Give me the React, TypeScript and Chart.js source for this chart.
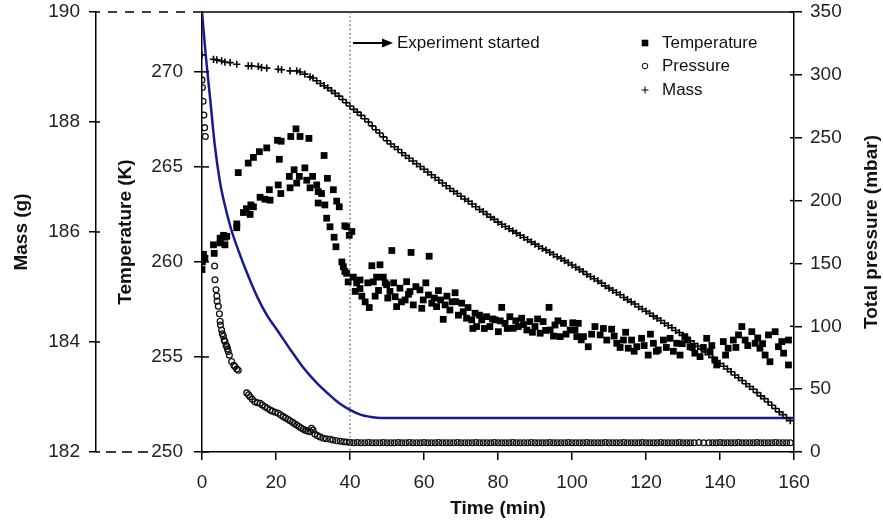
import React, { useEffect, useRef } from 'react';
import { Chart, registerables } from 'chart.js';

Chart.register(...registerables);

const FONT = "'Liberation Sans', Arial, Helvetica, sans-serif";

// ---- axis ranges / tick steps ----
const timeRange = [0, 160];
const timeStep = 20;
const tempRange = [250, 273.15];
const tempStep = 5;
const massRange = [182, 190];
const massStep = 2;
const presRange = [0, 350];
const presStep = 50;
const experimentStart = 40;

// ---- Temperature (K) vs time (min), filled squares ----
const temperaturePoints: [number, number][] = [
  [0.0, 259.6], [0.1, 260.0], [0.4, 260.4], [0.8, 260.2], [3.1, 260.9], [3.3, 260.45], [4.9, 261.0],
  [4.9, 261.25], [5.8, 261.4], [6.2, 261.3], [6.2, 260.9], [6.7, 261.35], [9.4, 262.0], [9.4, 261.8],
  [11.2, 262.6], [12.0, 262.8], [13.0, 262.5], [13.2, 263.0], [13.9, 262.9], [15.7, 263.4], [17.0, 263.3],
  [18.2, 263.8], [18.4, 263.25], [20.6, 264.05], [21.3, 263.6], [23.6, 264.5], [23.8, 263.9], [24.9, 264.85],
  [25.6, 264.15], [26.3, 264.5], [27.8, 264.95], [28.3, 264.3], [29.2, 263.9], [29.9, 264.5], [31.0, 264.05],
  [31.4, 263.7], [31.4, 263.1], [32.3, 263.6], [33.2, 263.0], [33.9, 264.4], [35.5, 263.8], [36.4, 263.2],
  [37.1, 262.9], [33.7, 262.3], [34.6, 261.85], [35.7, 261.3], [36.2, 260.8], [38.6, 261.9], [39.1, 261.85],
  [40.5, 261.6], [39.8, 261.4],
  [9.8, 264.7], [12.5, 265.2], [13.9, 265.5], [15.5, 265.8], [17.5, 266.0], [20.4, 266.4], [21.4, 266.35],
  [20.9, 265.4], [24.0, 266.6], [25.4, 267.0], [26.5, 266.6], [28.9, 266.5], [33.0, 265.6],
  [37.8, 260.0], [38.2, 259.75], [38.6, 259.5], [39.1, 259.4], [39.5, 258.95], [40.9, 259.2], [41.8, 258.9],
  [42.7, 259.05], [41.4, 258.45], [42.7, 258.6], [43.2, 258.2], [44.1, 257.9], [45.2, 257.6], [45.9, 259.8],
  [47.2, 259.2], [48.1, 259.85], [46.3, 258.95], [47.7, 258.5], [49.0, 259.2], [49.5, 258.9], [49.9, 258.8],
  [50.8, 258.45], [51.3, 260.6], [56.5, 260.5], [61.4, 260.3],
  [52.6, 257.65], [52.2, 258.17], [53.5, 258.62], [55.3, 258.96], [56.2, 258.44], [54.9, 258.0], [57.1, 257.74],
  [58.9, 258.53], [59.8, 258.0], [61.2, 258.26], [59.4, 257.56], [62.1, 257.83], [63.9, 258.49], [63.4, 257.65],
  [65.2, 256.98], [65.7, 257.74], [67.0, 257.47], [68.4, 258.38], [68.6, 257.91], [70.2, 257.83], [70.6, 257.38],
  [71.5, 257.04], [72.9, 256.95], [73.8, 257.3], [74.2, 256.6], [75.6, 256.95], [76.9, 257.12], [77.8, 256.6],
  [79.2, 256.95], [80.1, 256.33], [81.0, 257.61], [81.9, 256.77], [83.2, 257.12], [84.1, 256.51], [85.5, 256.6],
  [86.4, 257.04], [87.8, 256.42], [88.6, 256.86], [90.0, 256.6], [91.4, 256.25], [92.2, 256.86], [93.8, 257.61],
  [94.1, 256.42], [95.4, 256.68], [96.8, 256.07], [97.7, 256.77], [99.5, 256.42], [101.3, 256.07],
  [44.8, 258.9], [46.8, 258.2], [50.2, 258.1], [51.8, 258.9], [53.9, 257.9], [55.8, 258.3], [57.8, 258.7],
  [60.5, 258.9], [62.8, 258.1], [64.5, 258.0], [66.2, 258.2], [67.6, 257.9], [69.3, 257.2], [71.9, 257.6],
  [73.2, 256.5], [75.0, 257.2], [76.3, 256.5], [78.5, 257.0], [80.6, 256.9], [82.5, 256.5], [84.8, 256.9],
  [86.9, 256.7], [89.3, 256.3], [90.7, 257.0], [92.9, 256.4], [95.0, 256.1], [96.2, 256.9], [98.4, 256.2],
  [100.2, 256.8],
  [101.7, 256.77], [100.8, 256.42], [103.1, 256.07], [104.4, 255.54], [106.2, 256.6], [107.6, 256.16],
  [109.4, 255.89], [110.7, 256.46], [112.1, 255.72], [113.9, 255.89], [115.2, 255.46], [116.1, 255.89],
  [117.5, 255.54], [118.8, 255.98], [120.6, 255.1], [122.0, 255.72], [123.3, 255.37], [124.7, 255.89],
  [126.5, 255.98], [128.3, 255.72], [129.2, 255.1], [130.5, 256.07], [131.9, 255.54], [133.2, 255.2],
  [134.6, 255.02], [136.4, 255.98], [137.3, 255.28], [138.6, 254.84], [139.1, 254.58], [140.9, 255.81],
  [142.2, 255.46], [143.6, 255.89], [145.0, 256.16], [145.9, 256.6], [146.8, 255.89], [148.6, 256.33],
  [149.5, 255.72], [150.8, 255.46], [152.2, 255.1], [153.5, 254.75], [153.1, 256.16], [154.9, 256.33],
  [155.8, 255.54], [157.2, 255.2], [158.5, 254.58], [158.5, 255.89], [156.7, 255.81],
  [102.5, 255.9], [105.3, 256.2], [108.5, 256.5], [111.4, 256.1], [113.0, 255.5], [114.5, 256.3],
  [116.8, 255.3], [119.5, 255.6], [121.2, 256.2], [122.8, 255.3], [125.5, 255.5], [127.4, 255.3],
  [129.8, 255.7], [131.2, 255.9], [132.5, 255.5], [135.5, 255.5], [137.8, 255.6], [141.5, 255.1],
  [144.3, 255.5], [147.5, 255.6], [150.2, 256.0], [151.5, 255.7],
];

// ---- Total pressure (mbar) vs time (min), open circles ----
const pressurePoints: [number, number][] = [
  [0.0, 296], [0.1, 290], [0.3, 279], [0.5, 268], [0.7, 258], [0.9, 251],
  [3.4, 148], [3.5, 137], [3.8, 129], [4.0, 124], [4.1, 120], [4.4, 116], [4.7, 110], [4.9, 104],
  [5.0, 101], [5.3, 97], [5.5, 94], [5.8, 92], [6.0, 89], [6.2, 88], [6.5, 85], [6.7, 84], [6.9, 82],
  [7.1, 80], [7.4, 77], [8.0, 72], [8.6, 69], [8.9, 68], [9.4, 66], [9.8, 65],
  [12.1, 47], [12.6, 45.5], [13.0, 44], [13.6, 42], [14.3, 40], [15.0, 39.2], [15.7, 38.7], [16.3, 37.3],
  [17.0, 36], [17.7, 34.8], [18.4, 33.4], [19.0, 32.5], [19.8, 31.6], [20.6, 30.8], [21.3, 29.4],
  [22.0, 28.1], [22.6, 27], [23.2, 26], [23.8, 24.9], [24.5, 23.6], [25.0, 22.5], [25.6, 21.5],
  [26.2, 20.2], [26.8, 19], [27.4, 18], [28.0, 17.2], [28.6, 16.6], [29.2, 16.2], [29.6, 18.9],
  [30.0, 17.5], [30.5, 14.3], [31.2, 13], [31.9, 12], [32.8, 10.9], [33.6, 10.5], [34.6, 10.1],
  [35.4, 9.5], [36.4, 9.0], [37.4, 8.6], [38.3, 8.2], [39.1, 8.0], [40.0, 7.6],
  [41, 7.4], [42, 7.5], [43, 7.3], [44, 7.4], [45, 7.5], [46, 7.4], [47, 7.3], [48, 7.4], [49, 7.5],
  [50, 7.4], [51, 7.4], [52, 7.3], [53, 7.5], [54, 7.4], [55, 7.4], [56, 7.5], [57, 7.3], [58, 7.4],
  [59, 7.4], [60, 7.5], [61, 7.4], [62, 7.3], [63, 7.4], [64, 7.5], [65, 7.4], [66, 7.4], [67, 7.3],
  [68, 7.4], [69, 7.5], [70, 7.4], [71, 7.4], [72, 7.3], [73, 7.4], [74, 7.5], [75, 7.4], [76, 7.4],
  [77, 7.3], [78, 7.4], [79, 7.5], [80, 7.4], [81, 7.4], [82, 7.3], [83, 7.4], [84, 7.5], [85, 7.4],
  [86, 7.4], [87, 7.3], [88, 7.4], [89, 7.5], [90, 7.4], [91, 7.4], [92, 7.3], [93, 7.4], [94, 7.5],
  [95, 7.4], [96, 7.4], [97, 7.3], [98, 7.4], [99, 7.5], [100, 7.4], [101, 7.4], [102, 7.3], [103, 7.4],
  [104, 7.5], [105, 7.4], [106, 7.4], [107, 7.3], [108, 7.4], [109, 7.5], [110, 7.4], [111, 7.4],
  [112, 7.3], [113, 7.4], [114, 7.5], [115, 7.4], [116, 7.4], [117, 7.3], [118, 7.4], [119, 7.5],
  [120, 7.4], [121, 7.4], [122, 7.3], [123, 7.4], [124, 7.5], [125, 7.4], [126, 7.4], [127, 7.3],
  [128, 7.4], [129, 7.5], [130, 7.4], [131, 7.4], [132, 7.3], [133, 7.4], [134.3, 7.5], [135.6, 7.4],
  [137, 7.4], [138, 7.3], [139, 7.4], [140, 7.5], [141, 7.4], [142, 7.4], [143, 7.3], [144, 7.4],
  [145, 7.5], [146, 7.4], [147, 7.4], [148, 7.3], [149, 7.4], [150, 7.5], [151, 7.4], [152, 7.4],
  [153, 7.3], [154, 7.4], [155, 7.5], [156, 7.4], [157, 7.4], [158, 7.3], [159, 7.4],
];

// ---- Mass (g) vs time (min), plus markers ----
const massPoints: [number, number][] = [
  [0.0, 189.22], [3.1, 189.14], [4.0, 189.13], [5.3, 189.11], [6.2, 189.09], [7.6, 189.08], [9.4, 189.05],
  [12.5, 189.02], [13.4, 189.02], [15.2, 189.01], [16.1, 188.99], [17.5, 188.98], [20.6, 188.96],
  [21.5, 188.95], [23.8, 188.93], [25.6, 188.93], [26.5, 188.91], [27.8, 188.87], [29.2, 188.82],
  [30, 188.80], [31, 188.75], [32, 188.70], [33, 188.66], [34, 188.62], [35, 188.57], [36, 188.52],
  [37, 188.47], [38, 188.41], [39, 188.35], [40, 188.29], [41, 188.23], [42, 188.18], [43, 188.12],
  [44, 188.06], [45, 188.00], [46, 187.93], [47, 187.86], [48, 187.80], [49, 187.73], [50, 187.66],
  [51, 187.60], [52, 187.55], [53, 187.50], [54, 187.44], [55, 187.39], [56, 187.34], [57, 187.29],
  [58, 187.24], [59, 187.19], [60, 187.14], [61, 187.09], [62, 187.04], [63, 186.99], [64, 186.94],
  [65, 186.89], [66, 186.84], [67, 186.79], [68, 186.74], [69, 186.70], [70, 186.65], [71, 186.60],
  [72, 186.56], [73, 186.51], [74, 186.46], [75, 186.41], [76, 186.37], [77, 186.32], [78, 186.27],
  [79, 186.23], [80, 186.18], [81, 186.14], [82, 186.10], [83, 186.06], [84, 186.02], [85, 185.98],
  [86, 185.94], [87, 185.90], [88, 185.86], [89, 185.82], [90, 185.78], [91, 185.74], [92, 185.70],
  [93, 185.67], [94, 185.63], [95, 185.59], [96, 185.55], [97, 185.52], [98, 185.48], [99, 185.44],
  [100, 185.40], [101, 185.36], [102, 185.32], [103, 185.28], [104, 185.23], [105, 185.19], [106, 185.15],
  [107, 185.11], [108, 185.07], [109, 185.02], [110, 184.98], [111, 184.94], [112, 184.90], [113, 184.86],
  [114, 184.81], [115, 184.77], [116, 184.73], [117, 184.69], [118, 184.64], [119, 184.60], [120, 184.56],
  [121, 184.52], [122, 184.47], [123, 184.43], [124, 184.39], [125, 184.34], [126, 184.30], [127, 184.26],
  [128, 184.21], [129, 184.17], [130, 184.12], [131, 184.07], [132, 184.02], [133, 183.97], [134, 183.92],
  [135, 183.87], [136, 183.82], [137, 183.77], [138, 183.72], [139, 183.66], [140, 183.61], [141, 183.56],
  [142, 183.51], [143, 183.46], [144, 183.40], [145, 183.35], [146, 183.30], [147, 183.24], [148, 183.19],
  [149, 183.14], [150, 183.08], [151, 183.02], [152, 182.97], [153, 182.91], [154, 182.85], [155, 182.79],
  [156, 182.73], [157, 182.68], [158, 182.62], [159, 182.57],
];

// ---- Blue curve (on pressure axis) ----
const curvePoints: [number, number][] = [
  [0, 350], [1, 316], [2.2, 281], [3.5, 243], [4.9, 214], [5.8, 201], [7.8, 178], [10, 159], [12.5, 140],
  [15, 123], [17.5, 109], [20.3, 97], [24, 81], [27.4, 67], [31, 55], [34.6, 45], [37, 39], [40, 33.5],
  [43, 29.5], [45.4, 28], [48.3, 27], [160, 27],
];

const legendItems = ['Temperature', 'Pressure', 'Mass'];
const annotationText = 'Experiment started';
const axisTitles = { time: 'Time (min)', mass: 'Mass (g)', temp: 'Temperature (K)', pres: 'Total pressure (mbar)' };

const toXY = (pts: [number, number][]) => pts.map(([x, y]) => ({ x, y }));

const overlayPlugin = {
  id: 'overlay',
  afterDraw(chart: any) {
    const ctx = chart.ctx as CanvasRenderingContext2D;
    const { x, yTemp, yMass, yPres } = chart.scales;
    const area = chart.chartArea;
    const line = (x1: number, y1: number, x2: number, y2: number) => {
      ctx.beginPath();
      ctx.moveTo(x1, y1);
      ctx.lineTo(x2, y2);
      ctx.stroke();
    };
    ctx.save();
    ctx.strokeStyle = '#000';
    ctx.lineWidth = 1.5;
    // inner halves of crossing ticks
    yMass.ticks.forEach((t: any) => {
      const py = yMass.getPixelForValue(t.value);
      line(yMass.right, py, yMass.right + 4, py);
    });
    yTemp.ticks.forEach((t: any) => {
      const py = yTemp.getPixelForValue(t.value);
      line(area.left, py, area.left + 7, py);
    });
    yPres.ticks.forEach((t: any) => {
      const py = yPres.getPixelForValue(t.value);
      line(area.right - 4, py, area.right, py);
    });
    // top frame line
    line(area.left - 9, area.top, area.right, area.top);
    // dashed connectors between mass and temperature axes
    ctx.setLineDash([9, 8]);
    line(yMass.right + 12, area.top, area.left - 9, area.top);
    ctx.setLineDash([10, 6]);
    line(yMass.right + 10, area.bottom, yMass.right + 52, area.bottom);
    ctx.setLineDash([]);
    // dotted line at experiment start
    const xs = x.getPixelForValue(experimentStart);
    ctx.strokeStyle = '#555';
    ctx.lineWidth = 1.3;
    ctx.setLineDash([1.4, 2.8]);
    line(xs, area.top, xs, area.bottom);
    ctx.setLineDash([]);

    // axis titles
    ctx.fillStyle = '#111';
    ctx.font = `bold 19px ${FONT}`;
    ctx.textAlign = 'center';
    ctx.textBaseline = 'middle';
    const midY = (area.top + area.bottom) / 2;
    const vText = (txt: string, cx: number) => {
      ctx.save();
      ctx.translate(cx, midY);
      ctx.rotate(-Math.PI / 2);
      ctx.fillText(txt, 0, 0);
      ctx.restore();
    };
    vText(axisTitles.mass, 22);
    vText(axisTitles.temp, 126);
    vText(axisTitles.pres, 872);
    ctx.fillText(axisTitles.time, (area.left + area.right) / 2, 509);

    // annotation arrow
    const ay = 43;
    ctx.strokeStyle = '#000';
    ctx.lineWidth = 2;
    line(xs + 3, ay, xs + 35, ay);
    ctx.fillStyle = '#000';
    ctx.beginPath();
    ctx.moveTo(xs + 32, ay - 4.5);
    ctx.lineTo(xs + 43, ay);
    ctx.lineTo(xs + 32, ay + 4.5);
    ctx.closePath();
    ctx.fill();
    ctx.font = `17px ${FONT}`;
    ctx.textAlign = 'left';
    ctx.fillStyle = '#111';
    ctx.fillText(annotationText, xs + 47, ay);

    // legend
    const lx = 645;
    const rows = [43, 66, 90];
    ctx.fillStyle = '#000';
    ctx.fillRect(lx - 3.3, rows[0] - 3.3, 6.6, 6.6);
    ctx.lineWidth = 1;
    ctx.beginPath();
    ctx.arc(lx, rows[1], 2.8, 0, Math.PI * 2);
    ctx.stroke();
    ctx.lineWidth = 1;
    line(lx - 3.5, rows[2], lx + 3.5, rows[2]);
    line(lx, rows[2] - 3.5, lx, rows[2] + 3.5);
    ctx.fillStyle = '#111';
    ctx.font = `17px ${FONT}`;
    legendItems.forEach((txt, i) => ctx.fillText(txt, lx + 17, rows[i]));
    ctx.restore();
  },
};

const tickFont = { family: FONT, size: 19 };
const tickColor = '#222';
const gridCfg = (len: number) => ({ drawOnChartArea: false, drawTicks: true, tickLength: len, color: '#000', lineWidth: 1.5 });
const borderCfg = { display: true, color: '#000', width: 1.5 };
const fixWidth = (w: number) => (s: any) => {
  s.width = w;
  s.paddingTop = 0;
  s.paddingBottom = 0;
};

export default function App() {
  const ref = useRef<HTMLCanvasElement | null>(null);
  useEffect(() => {
    if (!ref.current) return;
    const chart = new Chart(ref.current, {
      type: 'scatter',
      data: {
        datasets: [
          {
            label: 'Mass',
            data: toXY(massPoints),
            yAxisID: 'yMass',
            pointStyle: 'cross',
            pointRadius: 3.6,
            borderColor: '#000',
            borderWidth: 1.6,
            backgroundColor: '#000',
          },
          {
            label: 'Temperature',
            data: toXY(temperaturePoints),
            yAxisID: 'yTemp',
            pointStyle: 'rect',
            pointRadius: 4.8,
            borderWidth: 0,
            backgroundColor: '#000',
          },
          {
            label: 'Pressure',
            data: toXY(pressurePoints),
            yAxisID: 'yPres',
            pointStyle: 'circle',
            pointRadius: 2.9,
            borderWidth: 1.3,
            borderColor: '#111',
            backgroundColor: 'rgba(255,255,255,0)',
          },
          {
            label: 'Curve',
            data: toXY(curvePoints),
            yAxisID: 'yPres',
            showLine: true,
            pointRadius: 0,
            borderColor: '#1a1a8e',
            borderWidth: 2.5,
            cubicInterpolationMode: 'monotone',
            fill: false,
          } as any,
        ],
      },
      options: {
        responsive: false,
        animation: false,
        events: [],
        layout: { padding: { top: 12, left: 0, right: 0, bottom: 0 } },
        plugins: { legend: { display: false }, tooltip: { enabled: false } },
        scales: {
          x: {
            type: 'linear',
            position: 'bottom',
            min: timeRange[0],
            max: timeRange[1],
            ticks: { stepSize: timeStep, font: tickFont, color: tickColor, padding: 11, maxRotation: 0 },
            grid: gridCfg(8),
            border: borderCfg,
            afterFit: (s: any) => { s.height = 78; },
          },
          yTemp: {
            type: 'linear',
            position: 'left',
            weight: 0,
            min: tempRange[0],
            max: tempRange[1],
            ticks: { stepSize: tempStep, includeBounds: false, font: tickFont, color: tickColor, padding: 11 },
            grid: gridCfg(8),
            border: borderCfg,
            afterFit: fixWidth(106),
          },
          yMass: {
            type: 'linear',
            position: 'left',
            weight: 10,
            min: massRange[0],
            max: massRange[1],
            ticks: { stepSize: massStep, font: tickFont, color: tickColor, padding: 9 },
            grid: gridCfg(7),
            border: borderCfg,
            afterFit: fixWidth(96),
          },
          yPres: {
            type: 'linear',
            position: 'right',
            min: presRange[0],
            max: presRange[1],
            ticks: { stepSize: presStep, font: tickFont, color: tickColor, padding: 8 },
            grid: gridCfg(8),
            border: borderCfg,
            afterFit: fixWidth(89),
          },
        } as any,
      },
      plugins: [overlayPlugin],
    });
    return () => chart.destroy();
  }, []);

  return (
    <div style={{ position: 'fixed', left: 0, top: 0, width: 883, height: 530, background: '#fff' }}>
      <canvas ref={ref} width={883} height={530} />
    </div>
  );
}
